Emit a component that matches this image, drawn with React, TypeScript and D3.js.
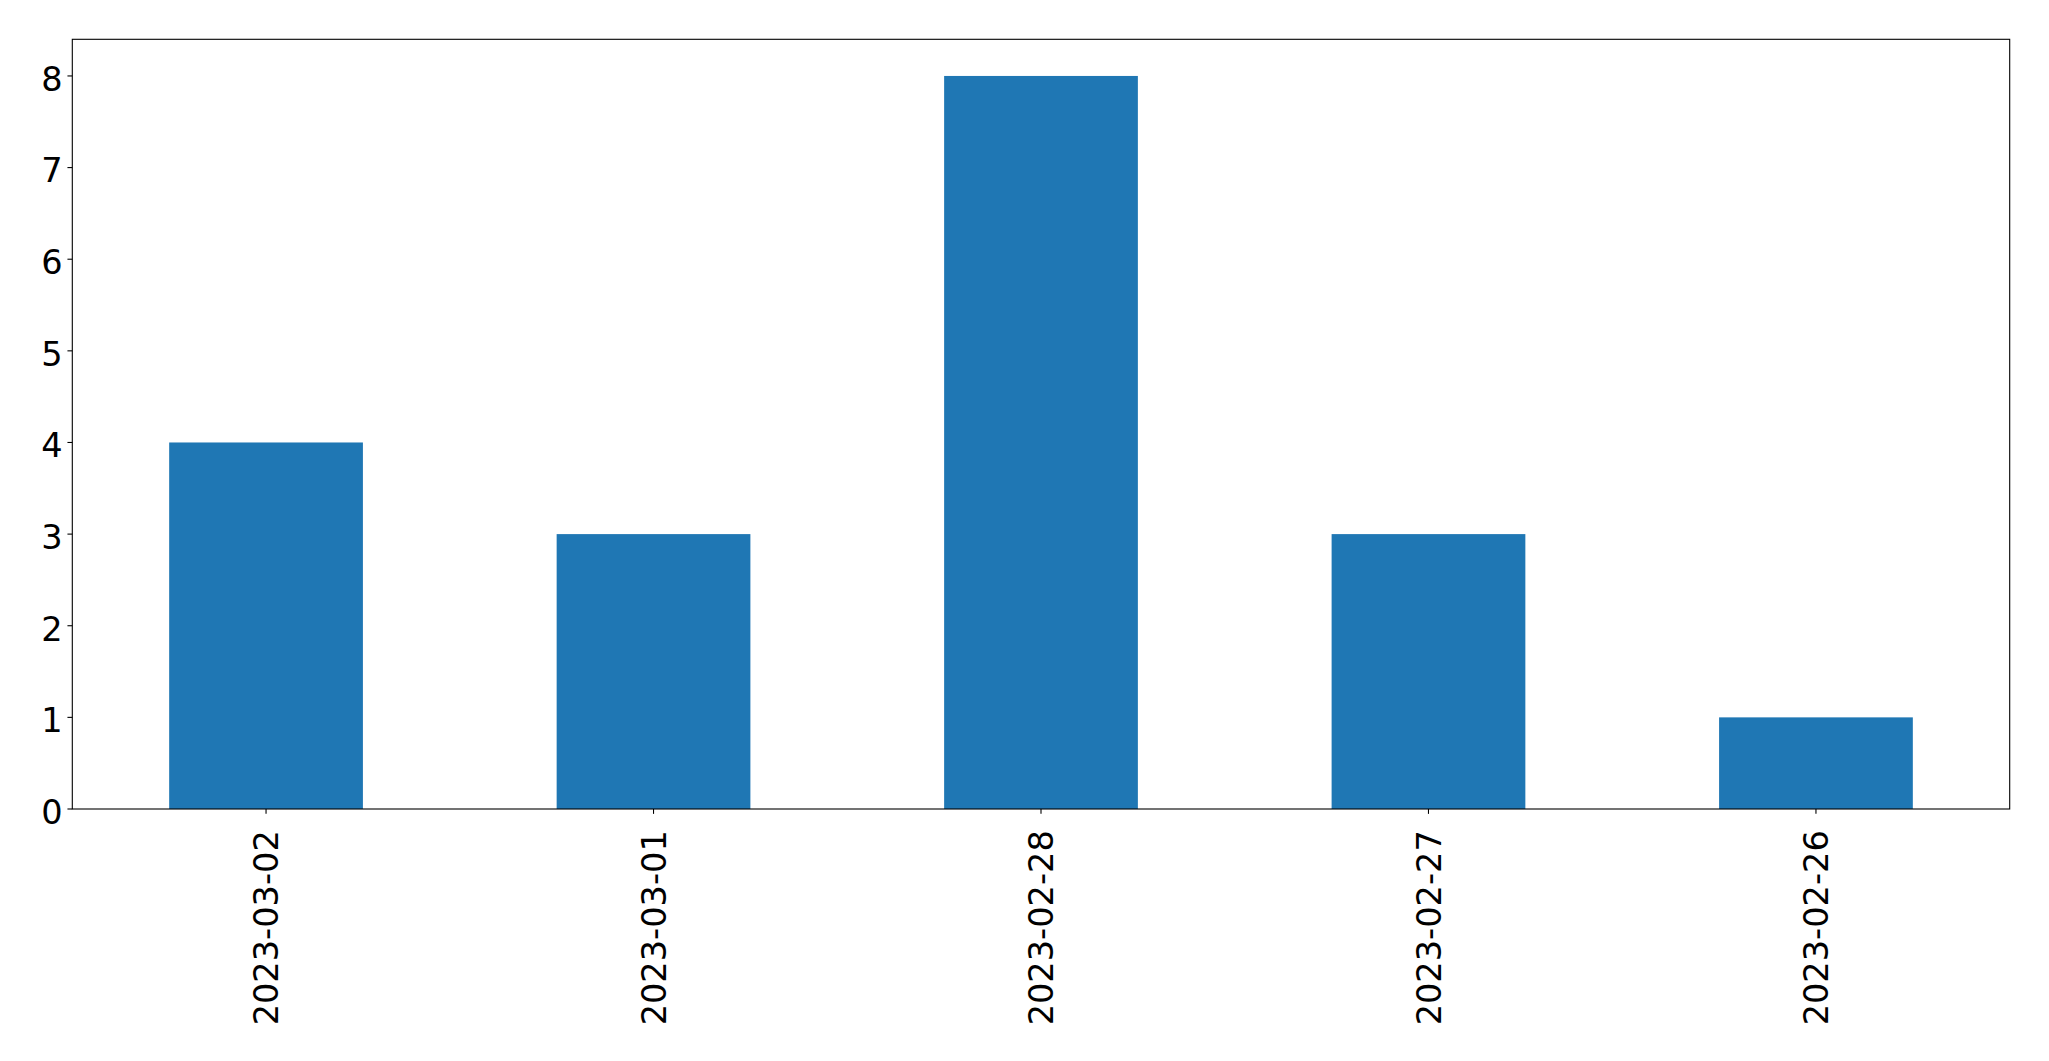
import React from "react";
import * as d3 from "d3";

const categories = ["2023-03-02", "2023-03-01", "2023-02-28", "2023-02-27", "2023-02-26"];
const values = [4, 3, 8, 3, 1];
const yTicks = [0, 1, 2, 3, 4, 5, 6, 7, 8];

const W = 2049;
const H = 1061;
const left = 72.3;
const right = 2009.7;
const top = 39.3;
const bottom = 809;
const FONT = "DejaVu Sans";
const FS = 33.6;

export default function App() {
  const x = d3
    .scaleLinear()
    .domain([-0.5, categories.length - 0.5])
    .range([left, right]);
  const y = d3.scaleLinear().domain([0, 8.4]).range([bottom, top]);
  const barW = x(0.25) - x(-0.25);
  const tickLen = 4.86;

  return (
    <div style={{ position: "fixed", left: 0, top: 0 }}>
      <svg width={W} height={H} xmlns="http://www.w3.org/2000/svg" style={{ display: "block", background: "#fff" }}>
        <rect x={0} y={0} width={W} height={H} fill="#fff" />
        {values.map((v, i) => (
          <rect
            key={i}
            x={x(i) - barW / 2}
            y={y(v)}
            width={barW}
            height={y(0) - y(v)}
            fill="#1f77b4"
          />
        ))}
        <rect
          x={left}
          y={top}
          width={right - left}
          height={bottom - top}
          fill="none"
          stroke="#000"
          strokeWidth={1.1}
        />
        {yTicks.map((t) => (
          <g key={t}>
            <line x1={left - tickLen} x2={left} y1={y(t)} y2={y(t)} stroke="#000" strokeWidth={1.1} />
            <text
              x={left - tickLen - 4.86}
              y={y(t)}
              dy="0.44em"
              textAnchor="end"
              fontFamily={FONT}
              fontSize={FS}
              fill="#000"
            >
              {t}
            </text>
          </g>
        ))}
        {categories.map((c, i) => (
          <g key={c}>
            <line x1={x(i)} x2={x(i)} y1={bottom} y2={bottom + tickLen} stroke="#000" strokeWidth={1.1} />
            <text
              transform={`translate(${x(i)},${bottom + tickLen + 4.86 + 11.5}) rotate(-90)`}
              dy="0.365em"
              textAnchor="end"
              fontFamily={FONT}
              fontSize={FS}
              fill="#000"
            >
              {c}
            </text>
          </g>
        ))}
      </svg>
    </div>
  );
}
